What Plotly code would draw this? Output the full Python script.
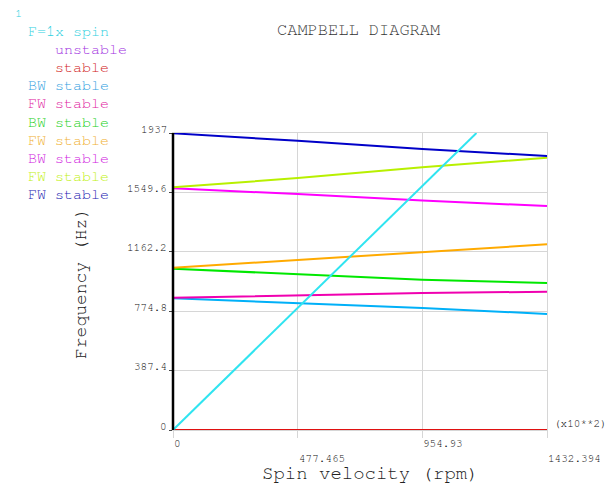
import plotly.graph_objects as go

# Campbell diagram data: spin velocity in (x10**2) rpm, whirl frequencies in Hz
spin = [0, 477.465, 954.93, 1432.394]
x_ticks = [0, 477.465, 954.93, 1432.394]
x_tick_text = ["0", "477.465", "954.93", "1432.394"]
y_ticks = [0, 387.4, 774.8, 1162.2, 1549.6, 1937]
y_tick_text = ["0", "387.4", "774.8", "1162.2", "1549.6", "1937"]

# excitation line F = 1x spin (Hz = rpm/60), up to where it leaves the chart
spin_1x = [0, 1162.2]
freq_1x = [0, 1937]

# rigid zero-frequency mode
freq_zero = [0, 0, 0, 0]

# whirl modes (BW = backward, FW = forward)
mode_bw1 = [859, 829, 795, 757]
mode_fw1 = [863, 879, 893, 902]
mode_bw2 = [1052, 1016, 980, 958]
mode_fw2 = [1058, 1109, 1161, 1211]
mode_bw3 = [1576, 1539, 1496, 1461]
mode_fw3 = [1583, 1643, 1714, 1776]
mode_fw4 = [1935, 1886, 1832, 1787]

line_colors = ["#00b0f8", "#f000b0", "#00e800", "#ffaa00", "#ff00ff", "#b8f000", "#0000c8"]
modes = [mode_bw1, mode_fw1, mode_bw2, mode_fw2, mode_bw3, mode_fw3, mode_fw4]

legend_text = ["F=1x spin", "unstable", "stable", "BW stable", "FW stable", "BW stable",
               "FW stable", "BW stable", "FW stable", "FW stable"]
legend_colors = ["#30d0e0", "#a030e0", "#d02020", "#30a0e0", "#e020a0", "#20d020",
                 "#f0b030", "#d020e0", "#c0f010", "#2020b0"]

MONO = "Nimbus Mono PS, FreeMono, Courier New, Liberation Mono, monospace"

# plot-area pixel geometry
W, H = 610, 484
L, R, T, B = 173, 547, 133, 430


def px(x):
    return (x - L) / (R - L)


def py(y):
    return (B - y) / (B - T)


fig = go.Figure()

fig.add_trace(go.Scatter(x=spin, y=freq_zero, mode="lines",
                         line=dict(color="#e01010", width=2), showlegend=False))
for vals, col in zip(modes, line_colors):
    fig.add_trace(go.Scatter(x=spin, y=vals, mode="lines",
                             line=dict(color=col, width=2), showlegend=False))
fig.add_trace(go.Scatter(x=spin_1x, y=freq_1x, mode="lines",
                         line=dict(color="#30e4f0", width=2), showlegend=False))

annotations = []

# y tick labels, right-aligned just above their gridlines
for v, t in zip(y_ticks, y_tick_text):
    annotations.append(dict(x=0, xref="paper", y=v, yref="y", text=t, showarrow=False,
                            xanchor="right", yanchor="middle", xshift=-4, yshift=4,
                            font=dict(family=MONO, size=11, color="#111111")))

# x tick labels, left-aligned at the tick and staggered in two rows
for i, (v, t) in enumerate(zip(x_ticks, x_tick_text)):
    annotations.append(dict(x=v, xref="x", y=0, yref="paper", text=t, showarrow=False,
                            xanchor="left", yanchor="middle", xshift=-1,
                            yshift=-13 if i % 2 == 0 else -28,
                            font=dict(family=MONO, size=11, color="#111111")))

annotations.append(dict(x=px(580), xref="paper", y=py(423), yref="paper", text="(x10**2)",
                        showarrow=False, xanchor="center", yanchor="middle",
                        font=dict(family=MONO, size=11, color="#111111")))

annotations.append(dict(x=px(359), xref="paper", y=py(30), yref="paper",
                        text="CAMPBELL DIAGRAM", showarrow=False,
                        xanchor="center", yanchor="middle",
                        font=dict(family=MONO, size=17, color="#333333")))

annotations.append(dict(x=px(370), xref="paper", y=py(473), yref="paper",
                        text="Spin velocity (rpm)", showarrow=False,
                        xanchor="center", yanchor="middle",
                        font=dict(family=MONO, size=19, color="#222222")))

annotations.append(dict(x=px(81), xref="paper", y=py(284), yref="paper",
                        text="Frequency (Hz)", showarrow=False, textangle=-90,
                        xanchor="center", yanchor="middle",
                        font=dict(family=MONO, size=18, color="#222222")))

annotations.append(dict(x=px(13), xref="paper", y=py(13), yref="paper", text="1",
                        showarrow=False, xanchor="left", yanchor="middle",
                        font=dict(family=MONO, size=12, color="#30d0e0")))

# legend block
for i, (t, c) in enumerate(zip(legend_text, legend_colors)):
    x0 = 53 if t in ("unstable", "stable") else 26
    annotations.append(dict(x=px(x0), xref="paper", y=py(31 + i * 18.2), yref="paper",
                            text=t, showarrow=False, xanchor="left", yanchor="middle",
                            font=dict(family=MONO, size=15, color=c)))

fig.update_layout(
    width=W, height=H,
    margin=dict(l=L, r=W - R, t=T, b=H - B),
    paper_bgcolor="white", plot_bgcolor="white",
    annotations=annotations,
    shapes=[dict(type="line", xref="paper", yref="paper", x0=0, x1=0, y0=0, y1=1,
                 line=dict(color="black", width=2.5))],
    xaxis=dict(range=[x_ticks[0], x_ticks[-1]], tickvals=x_ticks, showticklabels=False,
               showgrid=True, gridcolor="#d6d6d6", gridwidth=1, zeroline=False,
               ticks="outside", ticklen=7, tickcolor="#d6d6d6",
               showline=True, linecolor="#d6d6d6", mirror=True),
    yaxis=dict(range=[y_ticks[0], y_ticks[-1]], tickvals=y_ticks, showticklabels=False,
               showgrid=True, gridcolor="#d6d6d6", gridwidth=1, zeroline=False,
               ticks="outside", ticklen=3, tickcolor="#444444",
               showline=True, linecolor="#d6d6d6", mirror=True),
)

fig.write_html("out.html")
